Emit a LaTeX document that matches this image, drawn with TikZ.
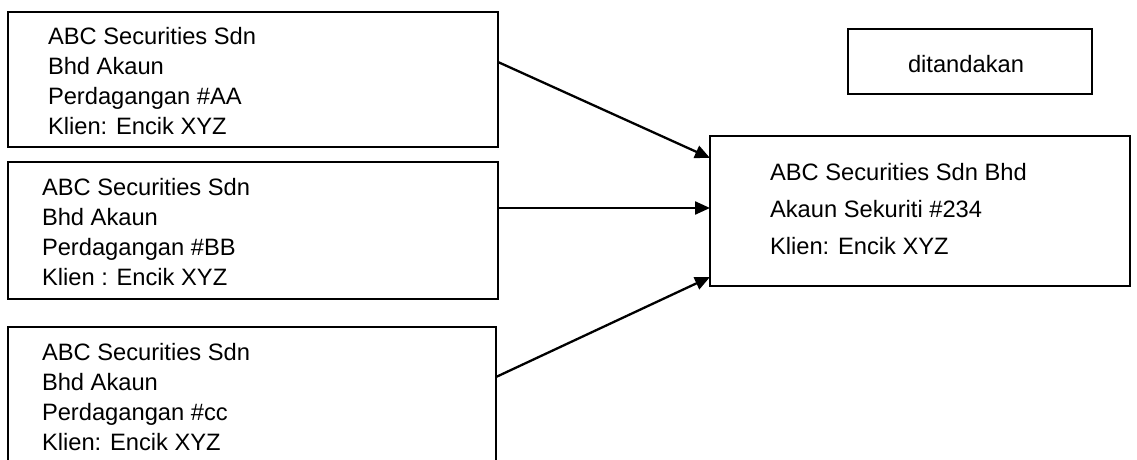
\documentclass[tikz,border=0pt]{standalone}
\usepackage{fontspec}
\setmainfont{Liberation Sans}
\usetikzlibrary{arrows.meta}
\begin{document}
\begin{tikzpicture}[x=1pt,y=-1pt,
  box/.style={draw=black, line width=2.3pt, inner sep=0pt, outer sep=0pt, rectangle},
  txt/.style={anchor=north west, inner sep=0pt, outer sep=0pt, align=left, font=\fontsize{23.7pt}{30pt}\selectfont},
  txtwide/.style={txt, font=\fontsize{23.7pt}{37pt}\selectfont},
  arr/.style={line width=2.3pt, -{Triangle[length=15pt,width=13pt]}}]
\path[use as bounding box] (0,0) rectangle (1137,460);
\fill[white] (0,0) rectangle (1137,460);
\clip (0,0) rectangle (1137,460);
% boxes
\node[box, minimum width=490pt, minimum height=135pt] (A) at (253,79.5) {};
\node[box, minimum width=490pt, minimum height=137pt] (B) at (253,230.5) {};
\node[box, minimum width=488pt, minimum height=160pt] (C) at (252,407) {};
\node[box, minimum width=420pt, minimum height=150pt] (R) at (920,211) {};
\node[box, minimum width=244pt, minimum height=65pt] (D) at (970,61.5) {};
% texts
\node[txt] (tA) at (48,27) {ABC Securities Sdn\\Bhd Akaun\\Perdagangan \#AA\\Klien: Encik XYZ};
\node[txt] (tB) at (42,178) {ABC Securities Sdn\\Bhd Akaun\\Perdagangan \#BB\\Klien : Encik XYZ};
\node[txt] (tC) at (42,343) {ABC Securities Sdn\\Bhd Akaun\\Perdagangan \#cc\\Klien: Encik XYZ};
\node[txtwide] (tR) at (770,163) {ABC Securities Sdn Bhd\\Akaun Sekuriti \#234\\Klien: Encik XYZ};
\node[anchor=base, inner sep=0pt, font=\fontsize{23.7pt}{30pt}\selectfont] (tD) at (966,73) {ditandakan};
% arrows
\draw[arr] (A.east |- 0,62) -- (R.west |- 0,158);
\draw[arr] (B.east |- 0,208) -- (R.west |- 0,208);
\draw[arr] (C.east |- 0,377) -- (R.west |- 0,277);
\end{tikzpicture}
\end{document}
